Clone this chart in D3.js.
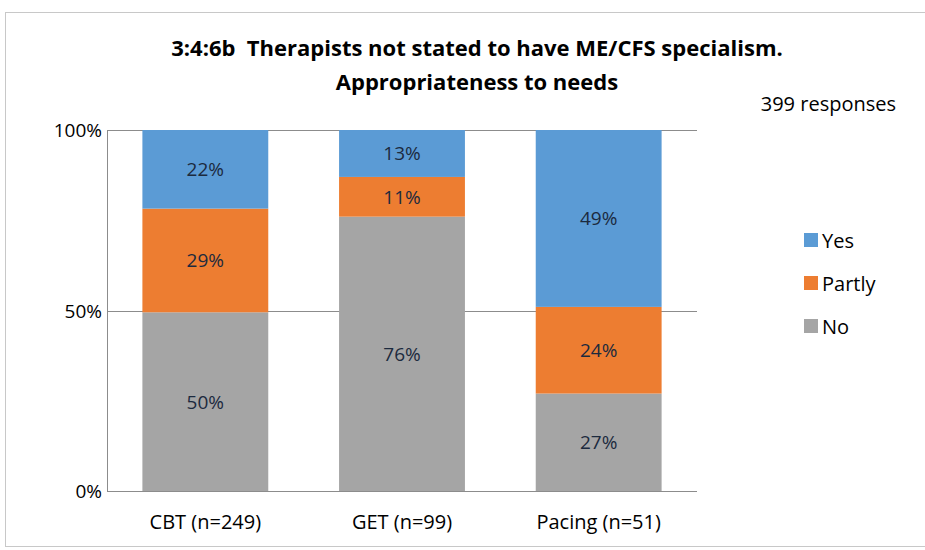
<!DOCTYPE html>
<html>
<head>
<meta charset="utf-8">
<title>Therapists appropriateness</title>
<script src="https://cdn.jsdelivr.net/npm/d3@7"></script>
<style>
  body { margin: 0; background: #fff; }
  svg text { font-family: "Open Sans", Lato, sans-serif; fill: #000; }
  .grid line { stroke: #8c8c8c; stroke-width: 1; shape-rendering: crispEdges; }
  .lbl { font-size: 19px; fill: #1c2a3e; }
</style>
</head>
<body>
<svg id="chart" width="925" height="550"></svg>
<script>
var categories = ["CBT (n=249)", "GET (n=99)", "Pacing (n=51)"];
var seriesNames = ["No", "Partly", "Yes"];
var noVals = [50, 76, 27];
var partlyVals = [29, 11, 24];
var yesVals = [22, 13, 49];
var tickLabels = ["0%", "50%", "100%"];
var colors = {No: "#a5a5a5", Partly: "#ed7d31", Yes: "#5b9bd5"};

// bars are 100% stacked, so each column is scaled by its own total
var rows = categories.map(function(c, i) {
  var tot = noVals[i] + partlyVals[i] + yesVals[i];
  return {cat: c, No: noVals[i] / tot, Partly: partlyVals[i] / tot, Yes: yesVals[i] / tot,
          raw: {No: noVals[i], Partly: partlyVals[i], Yes: yesVals[i]}};
});

var svg = d3.select("#chart");
var plotLeft = 107, plotRight = 697, plotTop = 130, plotBottom = 491;

// outer frame
svg.append("rect").attr("x", 5.5).attr("y", 12.5).attr("width", 930).attr("height", 534)
  .attr("fill", "none").attr("stroke", "#c8c8c8");

var x = d3.scaleBand().domain(categories).range([plotLeft, plotRight])
  .paddingInner(0.36).paddingOuter(0.18);
var y = d3.scaleLinear().domain([0, 1]).range([plotBottom, plotTop]);

// gridlines
var g = svg.append("g").attr("class", "grid");
g.selectAll("line.h").data([0, 0.5, 1]).enter().append("line")
  .attr("x1", plotLeft).attr("x2", plotRight)
  .attr("y1", function(d) { return Math.round(y(d)) + 0.5; })
  .attr("y2", function(d) { return Math.round(y(d)) + 0.5; });
g.append("line").attr("x1", plotLeft + 0.5).attr("x2", plotLeft + 0.5)
  .attr("y1", plotTop).attr("y2", plotBottom);

// y tick labels
svg.selectAll("text.ytick").data([0, 0.5, 1]).enter().append("text")
  .attr("class", "ytick")
  .attr("x", 102).attr("y", function(d) { return y(d) + 7; })
  .attr("text-anchor", "end").style("font-size", "19px")
  .text(function(d, i) { return tickLabels[i]; });

var stack = d3.stack().keys(seriesNames)(rows);

var layer = svg.selectAll("g.layer").data(stack).enter().append("g")
  .attr("class", "layer").attr("fill", function(d) { return colors[d.key]; });

layer.selectAll("rect").data(function(d) { return d; }).enter().append("rect")
  .attr("x", function(d) { return x(d.data.cat); })
  .attr("width", x.bandwidth())
  .attr("y", function(d) { return y(d[1]); })
  .attr("height", function(d) { return y(d[0]) - y(d[1]); });

layer.each(function(s) {
  d3.select(this).selectAll("text").data(s).enter().append("text")
    .attr("class", "lbl")
    .attr("x", function(d) { return x(d.data.cat) + x.bandwidth() / 2; })
    .attr("y", function(d) { return (y(d[0]) + y(d[1])) / 2 + 7; })
    .attr("text-anchor", "middle")
    .text(function(d) { return d.data.raw[s.key] + "%"; });
});

// x axis labels
svg.selectAll("text.xl").data(categories).enter().append("text")
  .attr("x", function(d) { return x(d) + x.bandwidth() / 2; })
  .attr("y", 529).attr("text-anchor", "middle").style("font-size", "20px")
  .text(function(d) { return d; });

// title
svg.append("text").attr("x", 477).attr("y", 56).attr("text-anchor", "middle")
  .style("font-size", "22px").style("font-weight", "bold").style("white-space", "pre")
  .text("3:4:6b  Therapists not stated to have ME/CFS specialism.");
svg.append("text").attr("x", 477).attr("y", 90).attr("text-anchor", "middle")
  .style("font-size", "22px").style("font-weight", "bold")
  .text("Appropriateness to needs");
svg.append("text").attr("x", 896).attr("y", 111).attr("text-anchor", "end")
  .style("font-size", "20px").text("399 responses");

// legend
var legendKeys = ["Yes", "Partly", "No"];
var lg = svg.selectAll("g.leg").data(legendKeys).enter().append("g")
  .attr("transform", function(d, i) { return "translate(804," + (233 + i * 43) + ")"; });
lg.append("rect").attr("width", 14).attr("height", 14).attr("fill", function(d) { return colors[d]; });
lg.append("text").attr("x", 18).attr("y", 15).style("font-size", "20px").text(function(d) { return d; });
</script>
</body>
</html>
